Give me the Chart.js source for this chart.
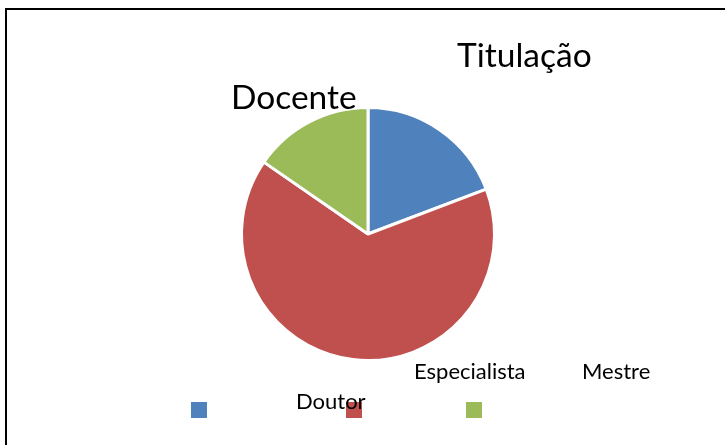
<!DOCTYPE html>
<html>
<head>
<meta charset="utf-8">
<script src="https://cdn.jsdelivr.net/npm/chart.js@4.4.0/dist/chart.umd.min.js"></script>
<style>
  html, body { margin: 0; padding: 0; background: #fff; }
  body { width: 725px; height: 445px; position: relative; overflow: hidden; font-family: Lato, "Open Sans", sans-serif; }
  #frame { position: absolute; left: 5px; top: 8px; width: 740px; height: 460px; border: 2px solid #000; box-sizing: border-box; }
  #wrap { position: absolute; left: 0; top: 0; width: 725px; height: 445px; }
  .txt { position: absolute; color: #000; white-space: nowrap; line-height: 1; }
</style>
</head>
<body>
<div id="frame"></div>
<div id="wrap"><canvas id="titulacao" width="725" height="445"></canvas></div>
<div class="txt" style="left:457px;top:38px;font-size:33.5px;">Titulação</div>
<div class="txt" style="left:231px;top:80px;font-size:33.5px;">Docente</div>
<div id="legend"></div>
<script>
var labels = ["Especialista", "Mestre", "Doutor"],
    docentes = [5, 17, 4],
    colors = ["#4F81BD", "#C0504D", "#9BBB59"];

// legenda do jeito que saiu no original (textos deslocados dos quadrados)
var legendText = [
    { left: 414, top: 360 },
    { left: 582, top: 360 },
    { left: 296, top: 390 }
],
    legendBox = [191, 346, 466];

function drawLegend() {
    var html = "";
    for (var i = 0; i < labels.length; i++) {
        html += '<div style="position:absolute;left:' + legendBox[i] + 'px;top:402px;width:16px;height:16px;background:' + colors[i] + ';"></div>';
    }
    for (var j = 0; j < labels.length; j++) {
        html += '<div class="txt" style="left:' + legendText[j].left + 'px;top:' + legendText[j].top + 'px;font-size:22px;">' + labels[j] + '</div>';
    }
    document.getElementById("legend").innerHTML = html;
}

function drawTitulacao() {
    var data = {
        labels: labels,
        datasets: [{
            data: docentes,
            backgroundColor: colors,
            borderColor: "#fff",
            borderWidth: 3
        }]
    },
        ctx = document.getElementById("titulacao"),
        titulacaoChart = new Chart(ctx, {
            type: 'pie',
            data: data,
            options: {
                responsive: false,
                animation: false,
                layout: { padding: { left: 240, right: 229, top: 105, bottom: 82 } },
                plugins: {
                    legend: { display: false },
                    tooltip: { enabled: false }
                }
            }
        });
}

window.onload = function () {
    drawLegend();
    drawTitulacao();
};
</script>
</body>
</html>
